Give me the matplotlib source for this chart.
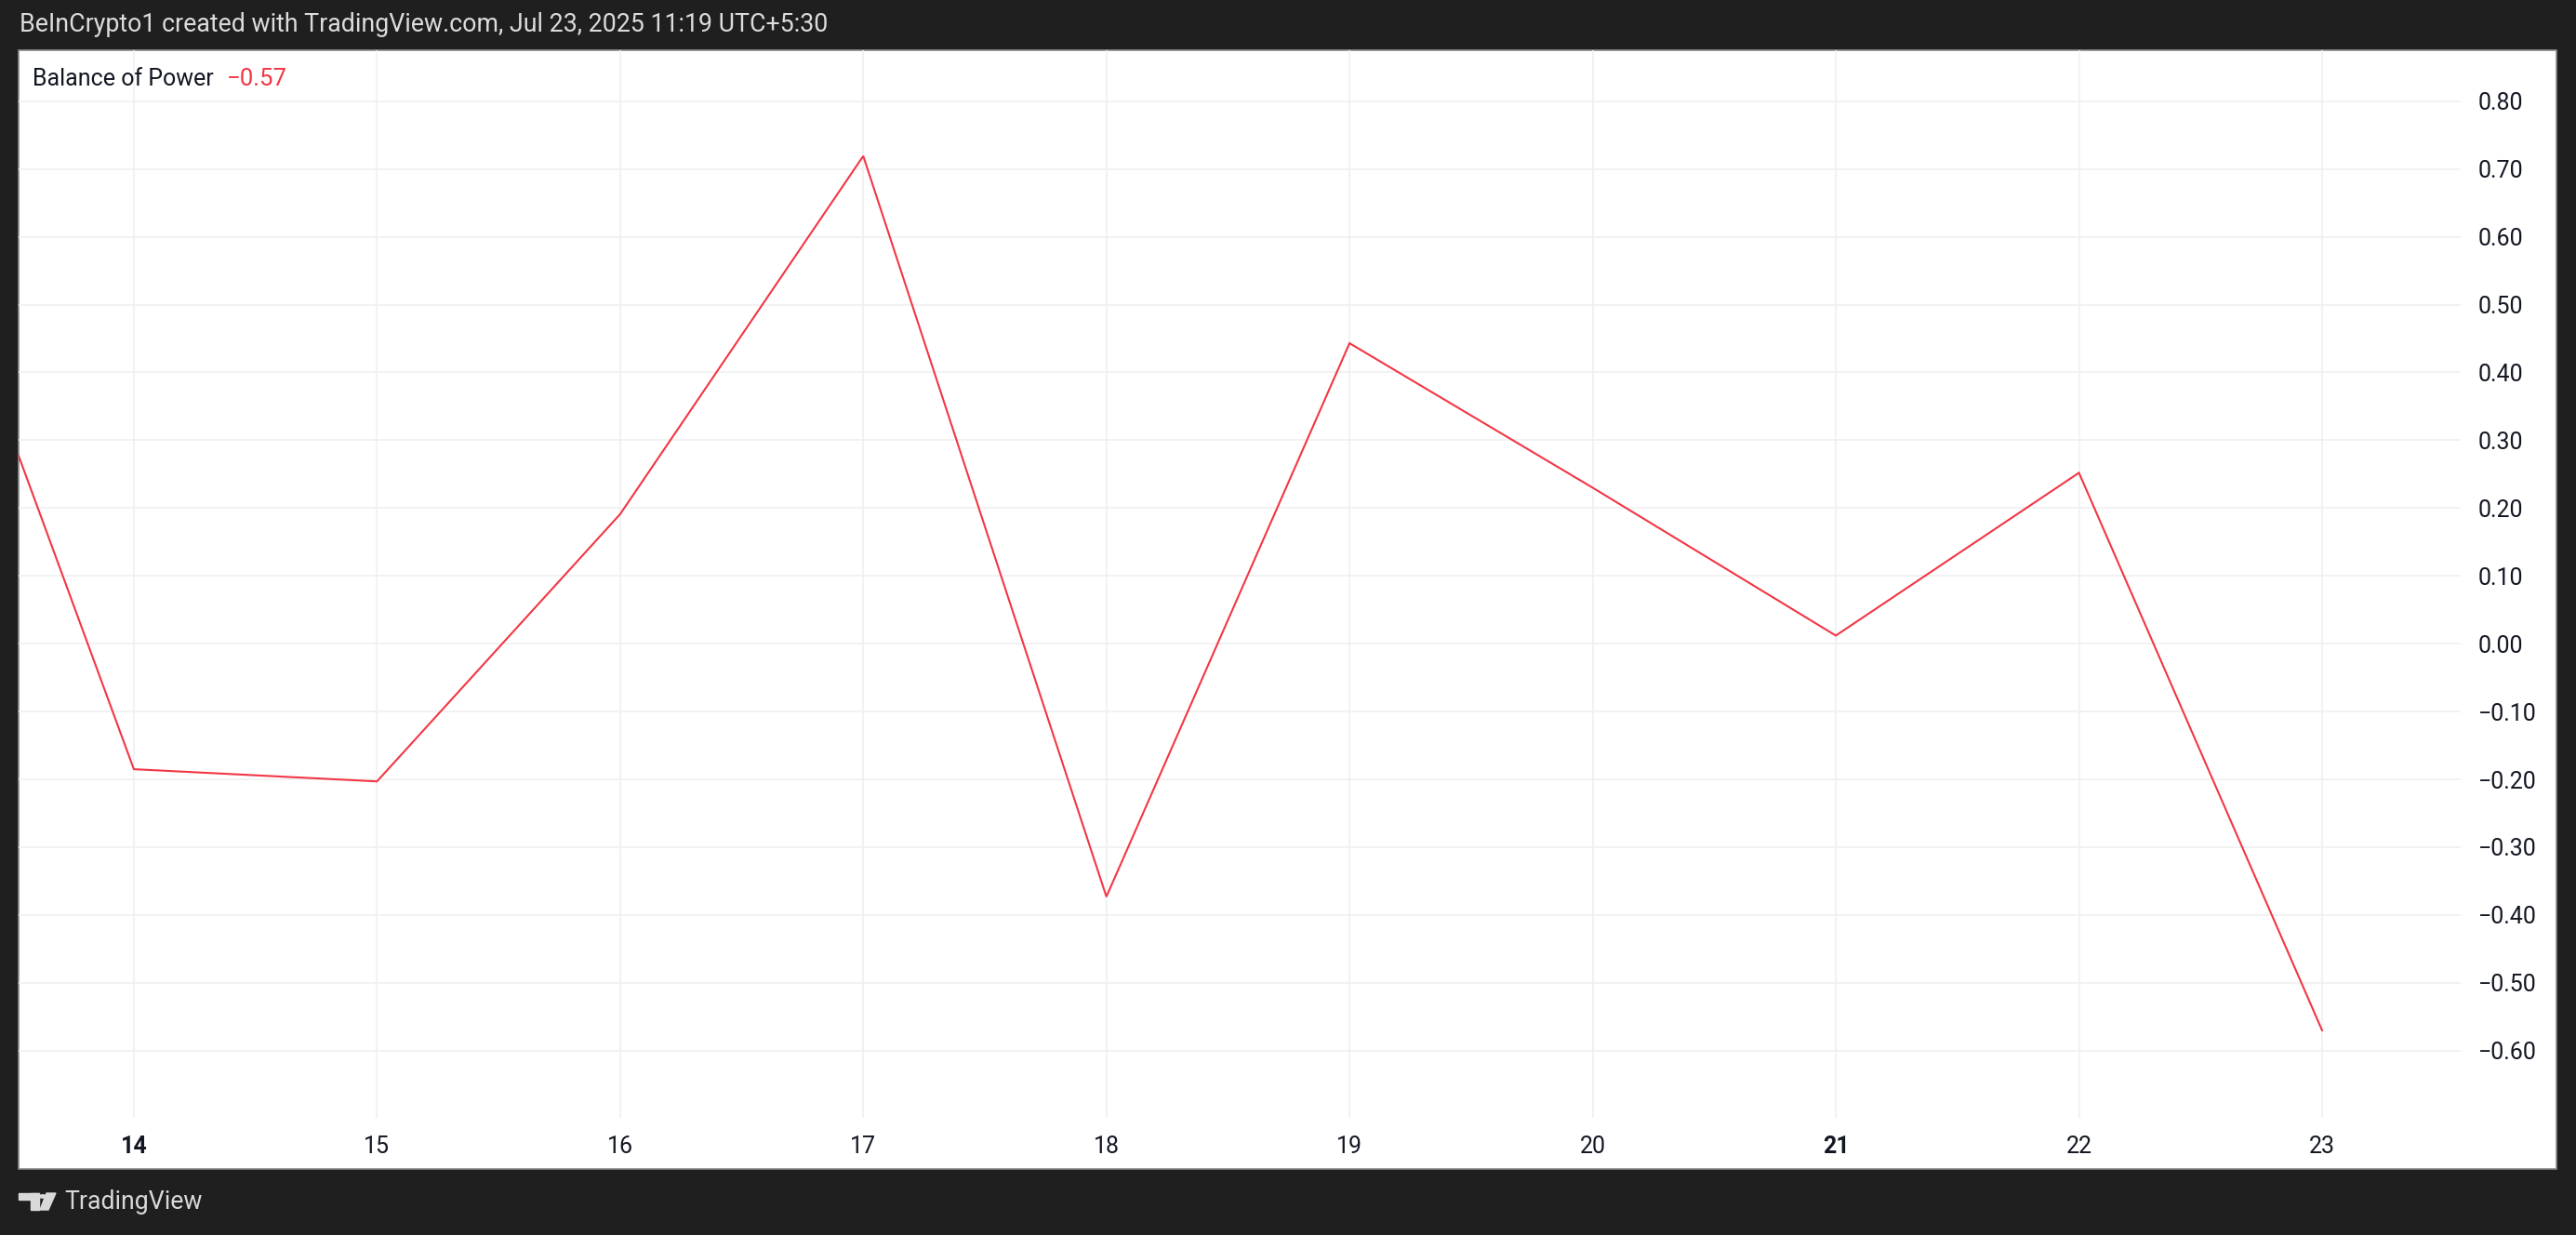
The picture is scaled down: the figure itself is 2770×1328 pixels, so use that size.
import matplotlib
matplotlib.use("Agg")
import matplotlib.pyplot as plt
from matplotlib.patches import Rectangle, Polygon, Circle

# data (day of month, Balance of Power)
days = [13, 14, 15, 16, 17, 18, 19, 20, 21, 22, 23]
bop = [0.79, -0.185, -0.203, 0.191, 0.719, -0.373, 0.443, 0.23, 0.012, 0.252, -0.57]
xtick_days = [14, 15, 16, 17, 18, 19, 20, 21, 22, 23]
bold_days = [14, 21]
yticks = [-0.6, -0.5, -0.4, -0.3, -0.2, -0.1, 0.0, 0.1, 0.2, 0.3, 0.4, 0.5, 0.6, 0.7, 0.8]

plt.rcParams['font.family'] = ['Roboto', 'DejaVu Sans']

W, H = 2770, 1328
bg = '#1f1f1f'
red = '#f23645'
txt = '#131722'
grid = '#f0f0f0'

fig = plt.figure(figsize=(W / 100, H / 100), dpi=100, facecolor=bg)

def fx(px):
    return px / W

def fy(py):
    return 1 - py / H

# white chart panel
fig.patches.append(Rectangle((fx(20), fy(1257)), fx(2749) - fx(20), fy(54) - fy(1257),
                             transform=fig.transFigure, facecolor='white',
                             edgecolor='#8a8a8a', linewidth=1.2, zorder=-10))

ax = fig.add_axes([fx(20), fy(1202), fx(2646) - fx(20), fy(54) - fy(1202)], zorder=5)
ax.set_facecolor('none')
ax.plot(days, bop, color=red, linewidth=1.5, solid_joinstyle='miter')
ax.set_xlim(13.526, 23.57)
ax.set_ylim(-0.699, 0.875)

ax.set_xticks(xtick_days)
ax.set_xticklabels([str(d) for d in xtick_days])
for lab, d in zip(ax.get_xticklabels(), xtick_days):
    if d in bold_days:
        lab.set_fontweight('bold')
ax.set_yticks(yticks)
ax.set_yticklabels([('%.2f' % v).replace('-', '\u2212') if abs(v) > 1e-9 else '0.00' for v in yticks])
ax.yaxis.tick_right()
ax.tick_params(axis='both', length=0, labelsize=18, labelcolor=txt)
ax.tick_params(axis='y', pad=13.5)
ax.tick_params(axis='x', pad=14)
ax.grid(True, color=grid, linewidth=1.2)
ax.set_axisbelow(True)
for s in ax.spines.values():
    s.set_visible(False)

# legend line
fig.text(fx(35), fy(85), 'Balance of Power', color=txt, fontsize=18, va='center', ha='left', zorder=6)
fig.text(fx(244), fy(85), '\u22120.57', color=red, fontsize=18.5, va='center', ha='left', zorder=6)

# header and footer
fig.text(fx(21), fy(27), 'BeInCrypto1 created with TradingView.com, Jul 23, 2025 11:19 UTC+5:30',
         color='#dcdcdc', fontsize=19.3, va='center', ha='left')

# TradingView logo mark
logo_col = '#d9d9d9'
fig.patches.append(Rectangle((fx(20), fy(1290)), fx(42) - fx(20), fy(1283) - fy(1290),
                             transform=fig.transFigure, color=logo_col))
fig.patches.append(Rectangle((fx(33), fy(1301)), fx(42) - fx(33), fy(1283) - fy(1301),
                             transform=fig.transFigure, color=logo_col))
fig.patches.append(Circle((fx(46), fy(1286.5)), 3.5 / W, transform=fig.transFigure, color=logo_col))
fig.patches.append(Polygon([(fx(50), fy(1283)), (fx(60), fy(1283)), (fx(52), fy(1301)), (fx(43), fy(1301))],
                           closed=True, transform=fig.transFigure, color=logo_col))
fig.text(fx(69), fy(1293), 'TradingView', color=logo_col, fontsize=19.2, va='center', ha='left')

fig.savefig('out.png', dpi=100, facecolor=bg)
